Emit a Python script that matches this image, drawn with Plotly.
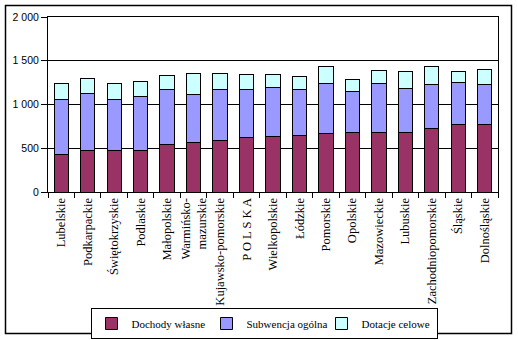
import plotly.graph_objects as go

categories = ["Lubelskie", "Podkarpackie", "Świętokrzyskie", "Podlaskie", "Małopolskie",
              "Warmińsko-<br>mazurskie", "Kujawsko-pomorskie", "P O L S K A", "Wielkopolskie",
              "Łódzkie", "Pomorskie", "Opolskie", "Mazowieckie", "Lubuskie",
              "Zachodniopomorskie", "Śląskie", "Dolnośląskie"]
# cumulative tops
top_red = [429, 475, 475, 475, 543, 566, 589, 624, 635, 646, 669, 681, 681, 681, 727, 773, 773]
top_blue = [1060, 1128, 1060, 1094, 1174, 1117, 1174, 1174, 1197, 1174, 1243, 1151, 1243, 1186, 1232, 1255, 1232]
top_cyan = [1243, 1300, 1243, 1266, 1335, 1358, 1358, 1346, 1346, 1323, 1438, 1289, 1392, 1381, 1438, 1381, 1404]

dochody = top_red
subwencja = [b - r for b, r in zip(top_blue, top_red)]
dotacje = [c - b for c, b in zip(top_cyan, top_blue)]

series = [("Dochody własne", dochody, "#993366"),
          ("Subwencja ogólna", subwencja, "#9999FF"),
          ("Dotacje celowe", dotacje, "#CCFFFF")]

fig = go.Figure()
for name, vals, col in series:
    fig.add_trace(go.Bar(x=categories, y=vals, name=name, marker_color=col,
                         marker_line=dict(color="black", width=1)))

L, R, T, B = 48, 20, 17, 148
W, H = 518, 340
pw, ph = W - L - R, H - T - B

def px_x(x):
    return (x - L) / pw

def px_y(y):
    return (H - B - y) / ph

fig.update_layout(
    barmode="stack",
    bargap=0.46,
    width=W, height=H,
    margin=dict(l=L, r=R, t=T, b=B, autoexpand=False),
    paper_bgcolor="white", plot_bgcolor="white",
    font=dict(family="Liberation Serif", size=12, color="black"),
    showlegend=True,
    legend=dict(orientation="h", x=px_x(264), y=px_y(308), xanchor="center", yanchor="top",
                bordercolor="black", borderwidth=1, font=dict(size=11, family="Liberation Serif"),
                itemwidth=30, tracegroupgap=0, traceorder="normal", bgcolor="white",
                entrywidth=70, entrywidthmode="pixels"),
    xaxis=dict(tickangle=-90, ticks="outside", tickson="boundaries", ticklen=5,
               tickcolor="black", showline=True, linecolor="black", linewidth=1, mirror=True,
               automargin=False,
               tickfont=dict(family="Liberation Serif", size=12.5)),
    yaxis=dict(range=[0, 2000], tickvals=[0, 500, 1000, 1500, 2000],
               ticktext=["0", "500", "1 000", "1 500", "2 000"],
               ticks="outside", ticklen=6, tickcolor="black",
               showline=True, linecolor="black", linewidth=1, mirror=True,
               showgrid=True, gridcolor="black", gridwidth=1, zeroline=False,
               automargin=False,
               tickfont=dict(family="Liberation Sans", size=10.5)),
    shapes=[dict(type="rect", xref="paper", yref="paper",
                 x0=px_x(5.5), x1=px_x(511.5), y0=px_y(333.5), y1=px_y(5.5),
                 line=dict(color="black", width=1.5), layer="below")],
)

fig.write_html("out.html")
